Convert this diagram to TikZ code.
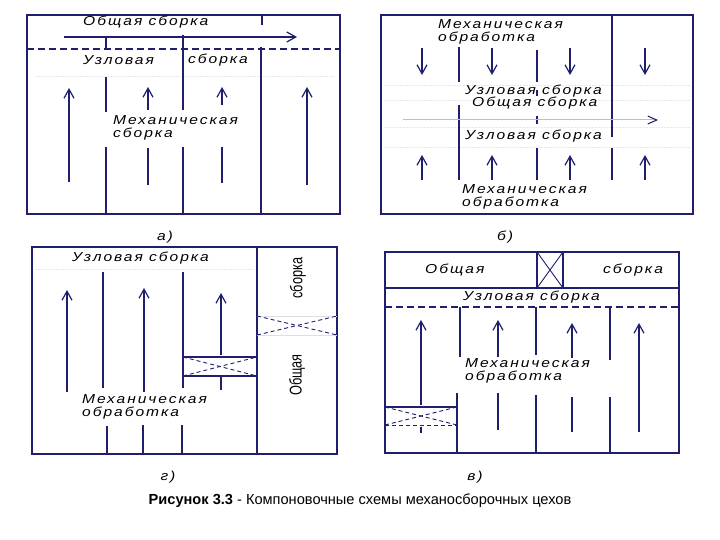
\documentclass[tikz,border=0pt]{standalone}
\usepackage{fontspec}
\setmainfont{Liberation Sans}
\newfontfamily\lab[LetterSpace=15,FakeStretch=1.2]{Liberation Sans}
\newfontfamily\capf{Liberation Sans}
\usetikzlibrary{arrows.meta}
\definecolor{ln}{HTML}{1F1F6E}
\tikzset{
  frm/.style={draw=ln, line width=1.3pt},
  lns/.style={draw=ln, line width=1.2pt},
  thk/.style={draw=ln, line width=2.6pt},
  arr/.style={lns, -{Straight Barb[length=9pt,width=10pt]}},
  tarr/.style={thk, -{Straight Barb[length=9pt,width=10pt,line width=1.2pt]}},
  dsh/.style={draw=ln, line width=1.2pt, dash pattern=on 7pt off 4pt},
  xd/.style={draw=ln, line width=0.9pt, dash pattern=on 4pt off 3pt},
  faint/.style={draw=gray!18, line width=0.8pt, dash pattern=on 2pt off 1pt},
  lbl/.style={font=\lab\itshape\fontsize{13}{13.5}\selectfont, inner sep=0pt, align=left, text=black},
  captxt/.style={font=\capf\fontsize{14.6}{16}\selectfont, inner sep=0pt, text=black},
  rottxt/.style={font=\capf\fontsize{17}{18}\selectfont, inner sep=0pt, rotate=90, text=black}
}
\begin{document}
\begin{tikzpicture}[x=1pt,y=-1pt]
\useasboundingbox (0,0) rectangle (720,540);
% ---------- panel a ----------
\draw[faint] (35,76) -- (335,76);
\draw[frm] (27,15) rectangle (340,214);
\draw[dsh] (27,49) -- (340,49);
\draw[lns] (262,15) -- (262,25);
\draw[lns] (106,36) -- (106,49);
\draw[thk] (106,77) -- (106,112);
\draw[thk] (106,147) -- (106,214);
\draw[lns] (183,35) -- (183,110);
\draw[lns] (183,147) -- (183,214);
\draw[lns] (261,47) -- (261,214);
\coordinate (a1s) at (69,182); \coordinate (a1e) at (69,88);
\draw[arr] (a1s) -- (a1e);
\coordinate (a2s) at (148,110); \coordinate (a2e) at (148,87);
\draw[arr] (a2s) -- (a2e);
\draw[lns] (148,148) -- (148,185);
\coordinate (a3s) at (222,105); \coordinate (a3e) at (222,87);
\draw[arr] (a3s) -- (a3e);
\draw[lns] (222,147) -- (222,183);
\coordinate (a4s) at (307,185); \coordinate (a4e) at (307,87);
\draw[arr] (a4s) -- (a4e);
\coordinate (ahs) at (64,37); \coordinate (ahe) at (297,37);
\draw[arr] (ahs) -- (ahe);
\node[lbl, anchor=west] (ta1) at (83,22) {Общая сборка};
\node[lbl, anchor=west] (ta2) at (83,60) {Узловая};
\node[lbl, anchor=west] (ta3) at (188,60) {сборка};
\node[lbl, anchor=west] (ta4) at (113,128) {Механическая\\сборка};
\node[lbl] (la) at (165,237) {а)};
% ---------- panel b ----------
\foreach \yy in {85,100,127,147} \draw[faint] (385,\yy) -- (690,\yy);
\draw[frm] (381,15) rectangle (693,214);
\draw[thk] (459,47) -- (459,82);
\draw[thk] (459,105) -- (459,180);
\draw[lns] (537,50) -- (537,82);
\draw[lns] (537,90) -- (537,96);
\draw[lns] (537,116) -- (537,124);
\draw[lns] (537,148) -- (537,180);
\draw[lns] (612,15) -- (612,137);
\draw[lns] (612,148) -- (612,180);
\foreach \xx in {422,492,570,645} {
  \draw[arr] (\xx,48) -- (\xx,75);
  \draw[arr] (\xx,180) -- (\xx,155);
}
\coordinate (bhs) at (403,120); \coordinate (bhe) at (658,120);
\draw[draw=ln!30, line width=1pt, -{Straight Barb[length=9pt,width=8pt,color=ln]}] (bhs) -- (bhe);
\node[lbl, anchor=north west] (tb1) at (438,19) {Механическая\\обработка};
\node[lbl, anchor=west] (tb2) at (465,91) {Узловая сборка};
\node[lbl, anchor=west] (tb3) at (472,103) {Общая сборка};
\node[lbl, anchor=west] (tb4) at (465,136) {Узловая сборка};
\node[lbl, anchor=west] (tb5) at (462,197) {Механическая\\обработка};
\node[lbl] (lb) at (505,237) {б)};
% ---------- panel g ----------
\draw[faint] (35,269) -- (255,269);
\draw[frm] (32,247) rectangle (337,454);
\draw[frm] (257,247) -- (257,454);
\draw[lns] (103,272) -- (103,388);
\draw[lns] (183,272) -- (183,388);
\draw[lns] (107,426) -- (107,454);
\draw[lns] (143,425) -- (143,454);
\draw[lns] (182,425) -- (182,454);
\draw[arr] (67,392) -- (67,290);
\draw[tarr] (144,392) -- (144,288);
\draw[arr] (221,355) -- (221,293);
\draw[lns] (221,377) -- (221,390);
\draw[lns, line width=1.6pt] (183,357) -- (257,357);
\draw[lns, line width=1.6pt] (183,376) -- (257,376);
\draw[xd] (183,357) -- (257,376);
\draw[xd] (183,376) -- (257,357);
\draw[draw=gray!25, line width=0.8pt] (257,316) -- (337,316);
\draw[draw=gray!25, line width=0.8pt] (257,335) -- (337,335);
\draw[xd] (257,316) -- (337,335);
\draw[xd] (257,335) -- (337,316);
\node[lbl, anchor=west] (tg1) at (72,258) {Узловая сборка};
\node[lbl, anchor=west] (tg2) at (82,407) {Механическая\\обработка};
\node[rottxt] (tg3) at (298,278) {\scalebox{0.75}[1]{сборка}};
\node[rottxt] (tg4) at (297,375) {\scalebox{0.75}[1]{Общая}};
\node[lbl] (lg) at (168,477) {г)};
% ---------- panel v ----------
\draw[frm] (385,252) rectangle (679,453);
\draw[frm] (385,288) -- (679,288);
\draw[dsh] (385,307) -- (679,307);
\draw[lns] (537,252) rectangle (563,288);
\draw[lns, line width=0.9pt] (537,252) -- (563,288);
\draw[lns, line width=0.9pt] (537,288) -- (563,252);
\draw[lns] (460,307) -- (460,357);
\draw[lns] (536,307) -- (536,355);
\draw[lns] (610,307) -- (610,360);
\draw[lns] (457,393) -- (457,453);
\draw[lns] (536,395) -- (536,453);
\draw[lns] (610,397) -- (610,453);
\draw[arr] (421,405) -- (421,320);
\draw[lns] (421,427) -- (421,433);
\draw[arr] (498,357) -- (498,320);
\draw[lns] (498,393) -- (498,430);
\draw[arr] (572,358) -- (572,323);
\draw[lns] (572,397) -- (572,432);
\draw[tarr] (639,432) -- (639,323);
\draw[lns, line width=1.4pt] (385,407) -- (457,407);
\draw[xd] (385,425) -- (457,425);
\draw[xd] (385,407) -- (457,425);
\draw[xd] (385,425) -- (457,407);
\node[lbl, anchor=west] (tv1) at (425,270) {Общая};
\node[lbl, anchor=west] (tv2) at (603,270) {сборка};
\node[lbl, anchor=west] (tv3) at (463,297) {Узловая сборка};
\node[lbl, anchor=west] (tv4) at (465,371) {Механическая\\обработка};
\node[lbl] (lv) at (475,477) {в)};
% ---------- caption ----------
\node[captxt] (capt) at (360,501) {\textbf{Рисунок 3.3} - Компоновочные схемы механосборочных цехов};
\end{tikzpicture}
\end{document}
